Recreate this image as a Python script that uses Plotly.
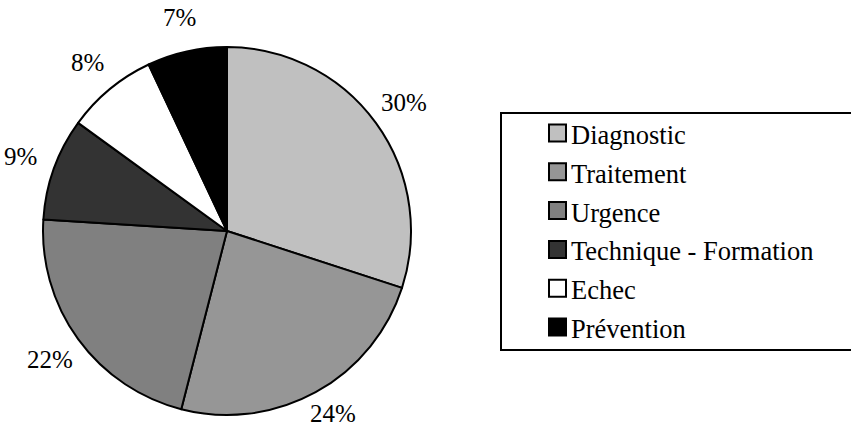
import numpy as np
import plotly.graph_objects as go

categories = ["Diagnostic", "Traitement", "Urgence", "Technique - Formation", "Echec", "Prévention"]
values = [30, 24, 22, 9, 8, 7]
colors = ["#c0c0c0", "#969696", "#808080", "#333333", "#ffffff", "#000000"]

W, H = 851, 430
FONT = "Times New Roman"
CX, CY, R, R_LBL = 227, 231, 184, 219
LBL_SIZE = 25

fig = go.Figure(go.Pie(
    labels=categories, values=values, sort=False, direction="clockwise", rotation=0,
    marker=dict(colors=colors, line=dict(color="black", width=2)),
    textinfo="none",
    domain=dict(x=[(CX - R) / W, (CX + R) / W], y=[1 - (CY + R) / H, 1 - (CY - R) / H]),
    showlegend=False, hoverinfo="label+percent",
))

annotations = []
# percentage labels: centred on each slice's mid-angle, outside the pie
vals = np.array(values, dtype=float)
frac = vals / vals.sum()
mid = (np.cumsum(frac) - frac / 2) * 2 * np.pi  # clockwise from 12 o'clock
half_box = LBL_SIZE * 0.68
for f, a in zip(frac, mid):
    x = CX + R_LBL * np.sin(a)
    y = CY - R_LBL * np.cos(a)
    y = min(max(y, half_box), H - half_box)  # keep the label inside the page
    annotations.append(dict(x=x / W, y=1 - y / H, xref="paper", yref="paper",
                            text=f"{round(f * 100)}%", showarrow=False,
                            xanchor="center", yanchor="middle", borderpad=0,
                            font=dict(family=FONT, size=LBL_SIZE, color="black")))

shapes = [dict(type="rect", xref="paper", yref="paper",
               x0=501 / W, x1=880 / W, y0=1 - 350 / H, y1=1 - 113 / H,
               line=dict(color="black", width=2), fillcolor="white", layer="below")]
for i, (lab, col) in enumerate(zip(categories, colors)):
    yc = 133 + i * 38.8
    shapes.append(dict(type="rect", xref="paper", yref="paper",
                       x0=549 / W, x1=566 / W, y0=1 - (yc + 8.5) / H, y1=1 - (yc - 8.5) / H,
                       line=dict(color="black", width=2), fillcolor=col))
    annotations.append(dict(x=569 / W, y=1 - (yc + 2) / H, xref="paper", yref="paper",
                            text=lab, showarrow=False, xanchor="left", yanchor="middle",
                            font=dict(family=FONT, size=26.5, color="black")))

fig.update_layout(width=W, height=H, margin=dict(l=0, r=0, t=0, b=0),
                  font=dict(family=FONT, color="black"),
                  paper_bgcolor="white", plot_bgcolor="white",
                  shapes=shapes, annotations=annotations)
fig.write_html("out.html", config={"displayModeBar": False},
               post_script="document.body.style.margin='0';document.body.style.overflow='hidden';")
